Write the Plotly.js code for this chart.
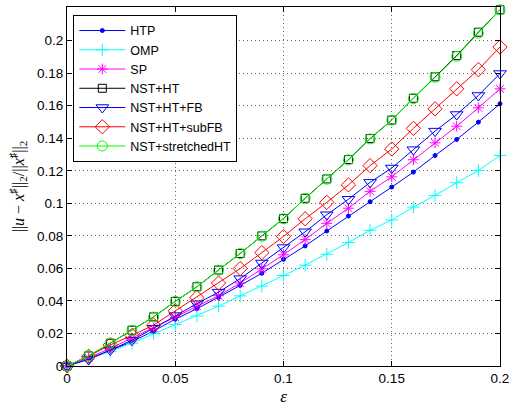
<!DOCTYPE html>
<html>
<head>
<meta charset="utf-8">
<script src="https://cdn.plot.ly/plotly-3.0.1.min.js"></script>
<style>html,body{margin:0;padding:0;background:#fff;}#chart{width:515px;height:409px;}</style>
</head>
<body>
<div id="chart"></div>
<script>
var epsilon = [0,0.01,0.02,0.03,0.04,0.05,0.06,0.07,0.08,0.09,0.10,0.11,0.12,0.13,0.14,0.15,0.16,0.17,0.18,0.19,0.20];
var seriesNames = ["HTP","OMP","SP","NST+HT","NST+HT+FB","NST+HT+subFB","NST+stretchedHT"];
var htp        = [0,0.0045,0.0095,0.0150,0.0215,0.0288,0.0352,0.0421,0.0495,0.0570,0.0656,0.0738,0.0830,0.0922,0.1010,0.1100,0.1192,0.1294,0.1393,0.1499,0.1612];
var omp        = [0,0.0042,0.0090,0.0140,0.0198,0.0255,0.0307,0.0368,0.0431,0.0491,0.0556,0.0620,0.0687,0.0759,0.0834,0.0898,0.0977,0.1049,0.1127,0.1202,0.1294];
var sp         = [0,0.0050,0.0108,0.0172,0.0231,0.0300,0.0367,0.0432,0.0510,0.0597,0.0684,0.0777,0.0877,0.0970,0.1074,0.1163,0.1268,0.1372,0.1474,0.1587,0.1704];
var nstHT      = [0,0.0062,0.0140,0.0220,0.0302,0.0397,0.0487,0.0590,0.0692,0.0800,0.0906,0.1031,0.1150,0.1269,0.1398,0.1512,0.1646,0.1778,0.1908,0.2052,0.2190];
var nstHTFB    = [0,0.0040,0.0098,0.0158,0.0232,0.0310,0.0383,0.0454,0.0537,0.0633,0.0728,0.0825,0.0930,0.1025,0.1129,0.1217,0.1330,0.1444,0.1546,0.1663,0.1798];
var nstHTsubFB = [0,0.0060,0.0130,0.0188,0.0252,0.0339,0.0421,0.0510,0.0599,0.0697,0.0796,0.0905,0.1006,0.1113,0.1232,0.1334,0.1461,0.1581,0.1704,0.1822,0.1961];
var nstStretch = [0,0.0063,0.0141,0.0219,0.0301,0.0397,0.0487,0.0589,0.0691,0.0798,0.0905,0.1030,0.1148,0.1267,0.1396,0.1511,0.1644,0.1775,0.1904,0.2047,0.2190];
var xTicks = [0,0.05,0.1,0.15,0.2];
var xTickText = ["0","0.05","0.1","0.15","0.2"];
var yTicks = [0,0.02,0.04,0.06,0.08,0.1,0.12,0.14,0.16,0.18,0.2];
var yTickText = ["0","0.02","0.04","0.06","0.08","0.1","0.12","0.14","0.16","0.18","0.2"];

var values = [htp, omp, sp, nstHT, nstHTFB, nstHTsubFB, nstStretch];
var colors = ["#0000ff","#00ffff","#ff00ff","#000000","#0000ff","#ff0000","#00ff00"];
var symbols = ["circle","cross-thin-open","asterisk-open","square-open","triangle-down-open","diamond-open","circle-open"];
var sizes = [4,9,9,8,11,11,10];

var traces = values.map(function(v,i){
  return {
    x: epsilon, y: v, name: seriesNames[i], type: "scatter", mode: "lines+markers",
    cliponaxis: false,
    line: {color: colors[i], width: 1},
    marker: {symbol: symbols[i], size: sizes[i], color: colors[i], line: {color: colors[i], width: 1}}
  };
});

var axisCommon = {
  showline: true, linecolor: "#000", linewidth: 1, mirror: "ticks",
  ticks: "inside", ticklen: 5, tickcolor: "#000", tickwidth: 1,
  showgrid: true, gridcolor: "#666", griddash: "1px,3px", gridwidth: 1,
  zeroline: false, tickmode: "array",
  tickfont: {family: "Liberation Sans, Arial, sans-serif", size: 13.5, color: "#000"}
};

var layout = {
  width: 515, height: 409,
  margin: {l: 67, r: 15, t: 7, b: 43},
  paper_bgcolor: "#fff", plot_bgcolor: "#fff",
  showlegend: true,
  legend: {
    x: 0.0146, y: 0.978, xanchor: "left", yanchor: "top",
    bgcolor: "#fff", bordercolor: "#000", borderwidth: 1,
    font: {family: "Liberation Sans, Arial, sans-serif", size: 12.5, color: "#000"},
    tracegroupgap: 0, itemwidth: 46
  },
  xaxis: Object.assign({}, axisCommon, {
    range: [0, 0.2], tickvals: xTicks, ticktext: xTickText,
    title: {text: "<i>ε</i>", font: {family: "Liberation Serif, DejaVu Serif, serif", size: 17, color: "#000"}, standoff: 4}
  }),
  yaxis: Object.assign({}, axisCommon, {
    range: [0, 0.2207], tickvals: yTicks, ticktext: yTickText,
    title: {text: "||<i>u</i> − <i>x</i><sup>♯</sup>||<sub>2</sub>/||<i>x</i><sup>♯</sup>||<sub>2</sub>", font: {family: "Liberation Serif, DejaVu Serif, serif", size: 16, color: "#000"}, standoff: 8}
  })
};

Plotly.newPlot("chart", traces, layout, {displayModeBar: false, staticPlot: true});
</script>
</body>
</html>
